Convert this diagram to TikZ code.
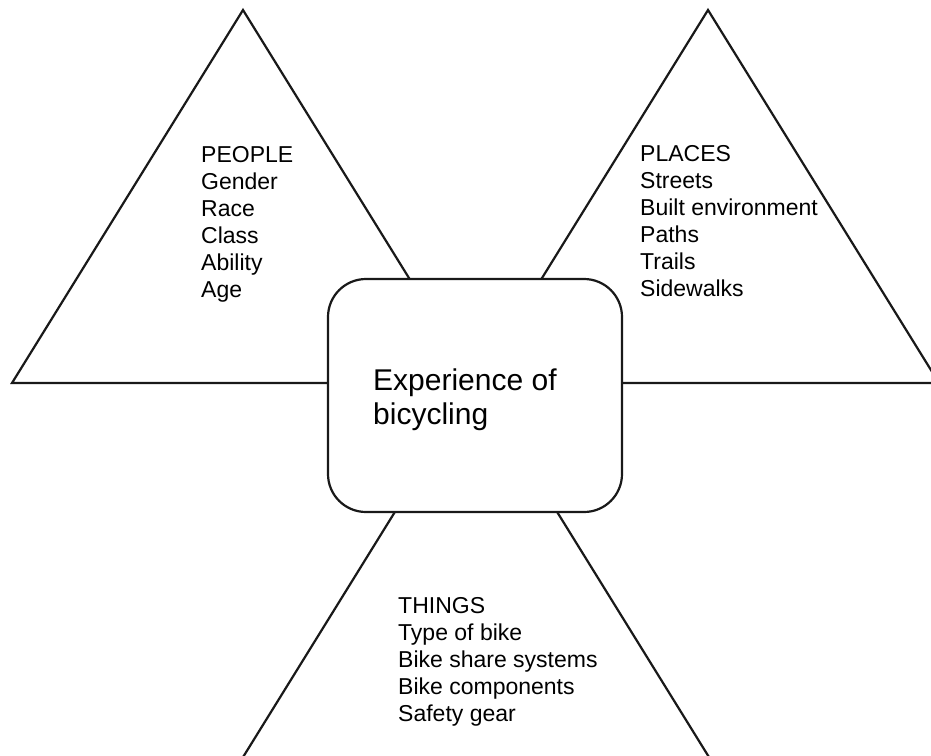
\documentclass[tikz,border=0pt]{standalone}
\usepackage{fontspec}
\setmainfont{Liberation Sans}
\begin{document}
\begin{tikzpicture}[x=1pt,y=-1pt,
  tri/.style={draw=black!90,line width=2.2pt,line join=miter},
  centerbox/.style={draw=black!90,line width=2.2pt,fill=white,rounded corners=38pt,
    minimum width=294pt,minimum height=233pt,inner sep=0pt},
  listtext/.style={anchor=north west,inner sep=0pt,align=left,
    font=\fontsize{23}{27}\selectfont},
  boxtext/.style={anchor=north west,inner sep=0pt,align=left,
    font=\fontsize{30}{34}\selectfont}]
\useasboundingbox (0,0) rectangle (931,755);
\clip (0,0) rectangle (931,755);
\fill[white] (0,0) rectangle (931,755);
% triangles
\draw[tri] (243,10) -- (12,383) -- (474,383) -- cycle;
\draw[tri] (708,10) -- (477,383) -- (939,383) -- cycle;
\draw[tri] (476,381) -- (240,762) -- (712,762) -- cycle;
% central box
\node[centerbox] (box) at (475,395.5) {};
\node[boxtext] (exp) at (373,369) {Experience of\\bicycling};
% lists
\node[listtext] (people) at (201,146) {PEOPLE\\Gender\\Race\\Class\\Ability\\Age};
\node[listtext] (places) at (640,145) {PLACES\\Streets\\Built environment\\Paths\\Trails\\Sidewalks};
\node[listtext] (things) at (398,597) {THINGS\\Type of bike\\Bike share systems\\Bike components\\Safety gear};
\end{tikzpicture}
\end{document}
